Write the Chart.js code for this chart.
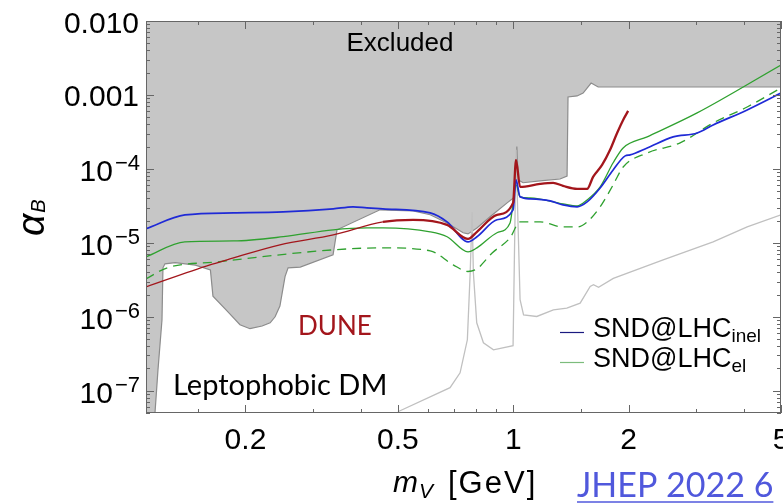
<!DOCTYPE html>
<html>
<head>
<meta charset="utf-8">
<script src="https://cdn.jsdelivr.net/npm/chart.js@4.4.1/dist/chart.umd.min.js"></script>
<style>
  html, body { margin: 0; padding: 0; background: #fff; }
  #wrap { width: 783px; height: 504px; }
</style>
</head>
<body>
<div id="wrap"><canvas id="chart" width="783" height="504"></canvas></div>
<script>
// axis ticks
const xTickValues = [0.2, 0.5, 1, 2, 5];
const xTickLabels = ["0.2", "0.5", "1", "2", "5"];
const xMinorTicks = [0.15, 0.3, 0.4, 0.6, 0.7, 0.8, 0.9, 1.5, 3, 4];
const yTickValues = [1e-7, 1e-6, 1e-5, 1e-4, 1e-3, 1e-2];
const yTickLabels = [["10", "\u22127"], ["10", "\u22126"], ["10", "\u22125"], ["10", "\u22124"], ["0.001", ""], ["0.010", ""]];

// excluded region (lower edge of the gray area)
const excludedX = [0.11, 0.1161, 0.1182, 0.1211, 0.1218, 0.1233, 0.131, 0.148, 0.162, 0.1645, 0.179, 0.1935, 0.2055, 0.221, 0.232, 0.239, 0.246, 0.2537, 0.2584, 0.278, 0.3386, 0.3467, 0.449, 0.548, 0.607, 0.672, 0.740, 0.762, 0.804, 0.870, 0.964, 1.011, 1.022, 1.030, 1.061, 1.175, 1.325, 1.382, 1.390, 1.468, 1.522, 1.597, 1.666, 5.0];
const excludedY = [5e-8, 5e-8, 1.9e-7, 9.1e-7, 4.6e-6, 5.2e-6, 5.4e-6, 5.0e-6, 4.3e-6, 1.9e-6, 1.2e-6, 7.8e-7, 6.9e-7, 7.5e-7, 8.3e-7, 1.0e-6, 1.4e-6, 3.5e-6, 4.6e-6, 4.7e-6, 6.9e-6, 1.5e-5, 2.8e-5, 2.7e-5, 2.4e-5, 1.86e-5, 1.37e-5, 1.32e-5, 1.59e-5, 2.25e-5, 3.47e-5, 4.2e-5, 2.0e-4, 7.1e-5, 6.5e-5, 6.9e-5, 7.3e-5, 8.0e-5, 9.4e-4, 9.7e-4, 1.06e-3, 1.45e-3, 1.28e-3, 1.28e-3];

// SND@LHC inelastic (blue)
const blueX = [0.11, 0.139, 0.186, 0.251, 0.339, 0.382, 0.415, 0.457, 0.607, 0.672, 0.762, 0.804, 0.907, 0.999, 1.017, 1.042, 1.107, 1.248, 1.349, 1.468, 1.559, 1.686, 1.823, 1.96, 2.019, 2.237, 2.615, 3.02, 3.325, 4.08, 5.0];
const blueY = [1.55e-5, 2.39e-5, 2.54e-5, 2.62e-5, 2.88e-5, 3.07e-5, 2.97e-5, 2.88e-5, 2.54e-5, 1.92e-5, 1.03e-5, 1.21e-5, 2.05e-5, 2.79e-5, 7.1e-5, 4.19e-5, 3.93e-5, 3.69e-5, 3.26e-5, 3.07e-5, 3.58e-5, 5.53e-5, 9.69e-5, 1.5e-4, 1.55e-4, 1.92e-4, 2.71e-4, 3.06e-4, 3.93e-4, 6.27e-4, 1.06e-3];

// DUNE (red)
const redX = [0.11, 0.1616, 0.179, 0.246, 0.339, 0.457, 0.548, 0.672, 0.762, 0.804, 0.907, 0.999, 1.017, 1.042, 1.175, 1.271, 1.349, 1.468, 1.559, 1.616, 1.706, 1.79, 1.867, 1.936, 1.995];
const redY = [2.54e-6, 5.04e-6, 5.89e-6, 9.4e-6, 1.28e-5, 1.92e-5, 2.05e-5, 1.75e-5, 1.13e-5, 1.41e-5, 2.39e-5, 3.47e-5, 1.32e-4, 5.71e-5, 6.27e-5, 6.47e-5, 5.89e-5, 5.37e-5, 5.37e-5, 7.8e-5, 1.13e-4, 1.81e-4, 3.06e-4, 4.59e-4, 6.08e-4];

// SND@LHC elastic (green solid)
const greenX = [0.11, 0.139, 0.186, 0.251, 0.339, 0.415, 0.457, 0.607, 0.672, 0.762, 0.804, 0.907, 0.981, 1.017, 1.042, 1.107, 1.349, 1.468, 1.559, 1.686, 1.823, 1.936, 2.237, 3.02, 5.0];
const greenY = [6.47e-6, 1.03e-5, 1.06e-5, 1.21e-5, 1.5e-5, 1.59e-5, 1.59e-5, 1.41e-5, 1.21e-5, 7.56e-6, 8.56e-6, 1.37e-5, 1.86e-5, 6.08e-5, 4.19e-5, 4.06e-5, 3.37e-5, 3.16e-5, 3.81e-5, 5.71e-5, 1.21e-4, 1.92e-4, 2.71e-4, 5.71e-4, 2.54e-3];

// green dashed
const dashX = [0.11, 0.125, 0.1685, 0.339, 0.457, 0.607, 0.697, 0.762, 0.804, 0.881, 0.981, 1.042, 1.175, 1.349, 1.468, 1.559, 1.686, 1.823, 1.936, 2.237, 2.727, 3.325, 4.08, 5.0];
const dashY = [3.26e-6, 4.6e-6, 5.53e-6, 8.04e-6, 8.56e-6, 7.8e-6, 5.04e-6, 4.1e-6, 4.45e-6, 7.3e-6, 1.17e-5, 1.92e-5, 1.92e-5, 1.64e-5, 1.64e-5, 1.92e-5, 3.07e-5, 6.08e-5, 1.06e-4, 1.64e-4, 2.25e-4, 4.18e-4, 6.88e-4, 1.24e-3];

// light gray curve
const grayX = [0.5, 0.684, 0.7265, 0.759, 0.772, 0.781, 0.787, 0.803, 0.836, 0.888, 0.999, 1.017, 1.042, 1.064, 1.152, 1.273, 1.380, 1.495, 1.588, 1.62, 1.67, 1.825, 2.462, 3.325, 4.08, 5.0];
const grayY = [5.2e-8, 1.1e-7, 1.75e-7, 4.89e-7, 3.93e-6, 2.62e-5, 3.93e-6, 8.3e-7, 4.45e-7, 3.58e-7, 4.06e-7, 1.81e-4, 1.7e-6, 1.06e-6, 1.01e-6, 1.24e-6, 1.31e-6, 1.53e-6, 2.57e-6, 2.71e-6, 2.5e-6, 3.3e-6, 5.89e-6, 1.03e-5, 1.64e-5, 2.39e-5];

function pts(xs, ys) {
  return xs.map((x, i) => ({ x: x, y: ys[i] }));
}

const SANS = '"Liberation Sans", Arial, sans-serif';
const CAL = 'Lato, "Open Sans", sans-serif';

// frame, inner ticks, labels, legend, annotations
const decor = {
  id: "decor",
  afterDatasetsDraw(chart) {
    const { ctx, chartArea: a, scales } = chart;
    const x = scales.x, y = scales.y;
    ctx.save();

    ctx.strokeStyle = "#666";
    ctx.lineWidth = 1;
    ctx.strokeRect(a.left + 0.5, a.top + 0.5, a.right - a.left - 1, a.bottom - a.top - 1);

    ctx.beginPath();
    x.ticks.forEach(t => {
      const px = Math.round(x.getPixelForValue(t.value)) + 0.5;
      const len = t.isMajor ? 8 : 4;
      ctx.moveTo(px, a.bottom); ctx.lineTo(px, a.bottom - len);
      ctx.moveTo(px, a.top); ctx.lineTo(px, a.top + len);
    });
    y.ticks.forEach(t => {
      const py = Math.round(y.getPixelForValue(t.value)) + 0.5;
      const len = t.isMajor ? 8 : 4;
      ctx.moveTo(a.left, py); ctx.lineTo(a.left + len, py);
      ctx.moveTo(a.right, py); ctx.lineTo(a.right - len, py);
    });
    ctx.stroke();

    // tick labels
    ctx.fillStyle = "#000";
    ctx.textBaseline = "alphabetic";
    ctx.textAlign = "center";
    ctx.font = "30px " + SANS;
    xTickValues.forEach((v, i) => {
      ctx.fillText(xTickLabels[i], x.getPixelForValue(v), 449);
    });
    ctx.textAlign = "right";
    yTickValues.forEach((v, i) => {
      const py = y.getPixelForValue(v);
      const [base, sup] = yTickLabels[i];
      if (!sup) {
        ctx.font = "30px " + SANS;
        ctx.fillText(base, 139, Math.max(py, 22) + 11);
      } else {
        ctx.font = "22px " + SANS;
        const sw = ctx.measureText(sup).width;
        ctx.fillText(sup, 140, py + 1);
        ctx.font = "30px " + SANS;
        ctx.fillText(base, 140 - sw - 2, py + 12);
      }
    });

    // axis titles
    ctx.textAlign = "left";
    ctx.font = "italic 30px " + SANS;
    ctx.fillText("m", 393, 492);
    let w = ctx.measureText("m").width;
    ctx.font = "italic 21px " + SANS;
    ctx.fillText("V", 393 + w + 1, 498);
    ctx.font = "31px " + SANS;
    ctx.letterSpacing = "2px";
    ctx.fillText("[GeV]", 448, 493);
    ctx.letterSpacing = "0px";

    ctx.save();
    ctx.translate(44, 236);
    ctx.rotate(-Math.PI / 2);
    ctx.font = "italic 39px " + SANS;
    ctx.fillText("\u03b1", 0, 0);
    w = ctx.measureText("\u03b1").width;
    ctx.font = "italic 20px " + SANS;
    ctx.fillText("B", w + 1, 1);
    ctx.restore();

    // annotations
    ctx.font = "26px " + SANS;
    ctx.textAlign = "center";
    ctx.fillText("Excluded", 400, 51);
    ctx.textAlign = "left";
    ctx.fillStyle = "#a3161c";
    ctx.font = "26px " + CAL;
    ctx.fillText("DUNE", 298, 335);
    ctx.fillStyle = "#000";
    ctx.font = "29px " + CAL;
    ctx.fillText("Leptophobic DM", 173, 395);

    // legend
    ctx.lineWidth = 1.2;
    ctx.strokeStyle = "#1a1a80";
    ctx.beginPath(); ctx.moveTo(560, 332.5); ctx.lineTo(584, 332.5); ctx.stroke();
    ctx.strokeStyle = "#7cbc7c";
    ctx.beginPath(); ctx.moveTo(560, 362.5); ctx.lineTo(584, 362.5); ctx.stroke();
    ctx.font = "27px " + SANS;
    ctx.fillText("SND@LHC", 593, 337);
    w = ctx.measureText("SND@LHC").width;
    ctx.fillText("SND@LHC", 593, 367);
    ctx.font = "19px " + SANS;
    ctx.fillText("inel", 593 + w, 342);
    ctx.fillText("el", 593 + w, 372);

    // reference link
    ctx.fillStyle = "#5058dc";
    ctx.font = "34px " + CAL;
    ctx.fillText("JHEP 2022 6", 577, 497);
    w = ctx.measureText("JHEP 2022 6").width;
    ctx.strokeStyle = "#5058dc";
    ctx.lineWidth = 1.5;
    ctx.beginPath(); ctx.moveTo(577, 502); ctx.lineTo(577 + w, 502); ctx.stroke();

    ctx.restore();
  },
};

function lineSet(data, color, width, order, extra) {
  return Object.assign({
    data: data,
    borderColor: color,
    borderWidth: width,
    pointRadius: 0,
    fill: false,
    cubicInterpolationMode: "monotone",
    order: order,
  }, extra || {});
}

const chart = new Chart(document.getElementById("chart"), {
  type: "line",
  data: {
    datasets: [
      lineSet(pts(redX, redY), "#a3161c", 2.3, 0, {
        segment: { borderWidth: c => (c.p0.parsed.x < 0.45 ? 1.3 : 2.3) },
      }),
      lineSet(pts(blueX, blueY), "#1f2ad6", 1.7, 1),
      lineSet(pts(greenX, greenY), "#2fa12f", 1.3, 2),
      lineSet(pts(dashX, dashY), "#2fa12f", 1.3, 3, { borderDash: [9, 6] }),
      lineSet(pts(grayX, grayY), "#c0c0c0", 1.3, 4, { cubicInterpolationMode: "default", tension: 0 }),
      lineSet(pts(excludedX, excludedY), "#8c8c8c", 1.2, 5, {
        cubicInterpolationMode: "default",
        tension: 0,
        fill: "end",
        backgroundColor: "#c6c6c6",
      }),
    ],
  },
  options: {
    responsive: false,
    animation: false,
    layout: { padding: { top: 21, right: 2, left: 0, bottom: 0 } },
    plugins: {
      legend: { display: false },
      tooltip: { enabled: false },
    },
    scales: {
      x: {
        type: "logarithmic",
        min: 0.11,
        max: 5,
        grid: { display: false },
        border: { display: false },
        ticks: { display: false },
        afterBuildTicks(scale) {
          scale.ticks = xTickValues.map(v => ({ value: v, isMajor: true }))
            .concat(xMinorTicks.map(v => ({ value: v, isMajor: false })));
        },
        afterFit(scale) { scale.height = 91; },
      },
      y: {
        type: "logarithmic",
        min: 5e-8,
        max: 0.01,
        grid: { display: false },
        border: { display: false },
        ticks: { display: false },
        afterBuildTicks(scale) {
          const t = [];
          yTickValues.concat([1e-8]).forEach(d => {
            for (let m = 1; m <= 9; m++) {
              const v = m * d;
              if (v >= 5e-8 && v <= 0.01) t.push({ value: v, isMajor: m === 1 });
            }
          });
          scale.ticks = t;
        },
        afterFit(scale) { scale.width = 146; },
      },
    },
  },
  plugins: [decor],
});
</script>
</body>
</html>
